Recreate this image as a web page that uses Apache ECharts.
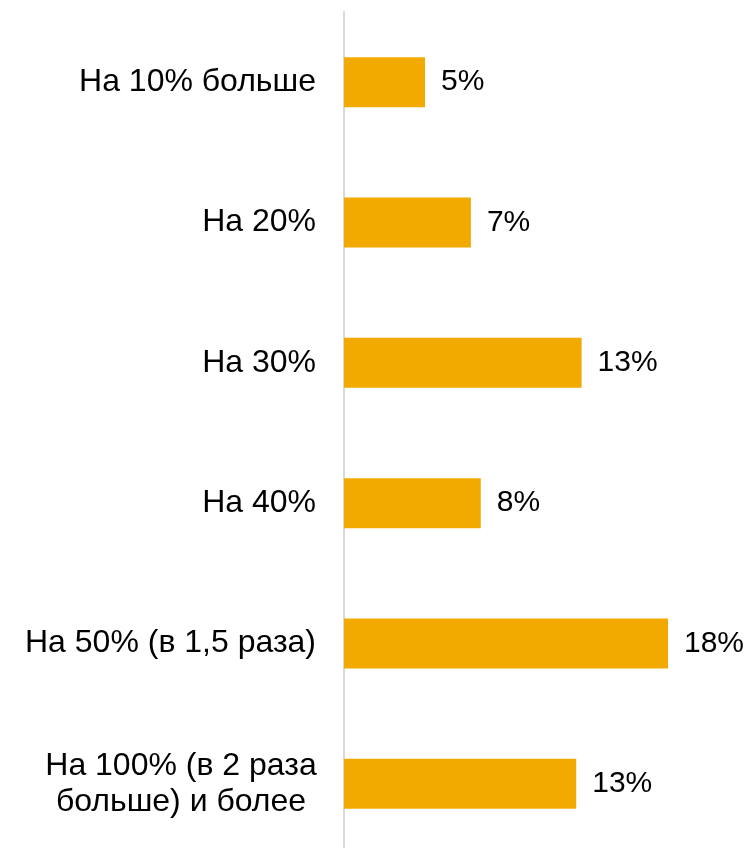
<!DOCTYPE html>
<html>
<head>
<meta charset="utf-8">
<script src="https://cdn.jsdelivr.net/npm/echarts@6/dist/echarts.min.js"></script>
<style>
  html, body { margin: 0; padding: 0; background: #fff; overflow: hidden; }
  #chart { width: 754px; height: 862px; }
</style>
</head>
<body>
<div id="chart"></div>
<script>
// categories, top to bottom
const categories = [
  'На 10% больше',
  'На 20%',
  'На 30%',
  'На 40%',
  'На 50% (в 1,5 раза)',
  'На 100% (в 2 раза\nбольше) и более',
]
// shares, % (labels show rounded values)
const values = [4.5, 7.05, 13.2, 7.6, 18.0, 12.9]

let mychart = echarts.init(document.getElementById('chart'))
mychart.setOption({
  animation: false,
  color: ['#F2AA00'],
  grid: {
    top: 12,
    left: 344,
    width: 396,
    height: 842,
  },
  xAxis: {
    type: 'value',
    min: 0,
    max: 22,
    show: false,
  },
  yAxis: {
    type: 'category',
    inverse: true,
    data: categories,
    axisLine: { show: true, lineStyle: { color: '#d9d9d9', width: 2 } },
    axisTick: { show: false },
    axisLabel: {
      margin: 28,
      color: '#000',
      fontFamily: 'Liberation Sans, Arial, sans-serif',
      fontSize: 32,
      lineHeight: 36,
      formatter: (v) => {
        if (v.indexOf('\n') < 0) return v
        return v.split('\n').map((s) => '{c|' + s + '}').join('\n')
      },
      rich: {
        c: {
          width: 270,
          align: 'center',
          fontSize: 32,
          lineHeight: 36,
          color: '#000',
          fontFamily: 'Liberation Sans, Arial, sans-serif',
        },
      },
    },
  },
  series: [
    {
      type: 'bar',
      barWidth: 50,
      data: values,
      label: {
        show: true,
        position: 'right',
        distance: 16,
        color: '#000',
        fontFamily: 'Liberation Sans, Arial, sans-serif',
        fontSize: 30,
        formatter: (p) => Math.round(p.value) + '%',
      },
    },
  ],
})
</script>
</body>
</html>
